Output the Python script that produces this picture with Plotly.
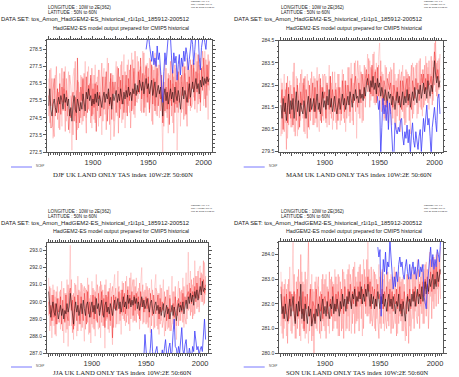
import plotly.graph_objects as go

W, H = 459, 377

years = list(range(1860, 2006))
ncep_years = list(range(1948, 2006))

# ---------------- DJF ----------------
DJF_mean = [275.2, 276.2, 275.0, 274.6, 275.3, 275.6, 275.1, 274.8, 275.4, 275.7,
            275.3, 275.8, 275.5, 275.0, 275.9, 275.4, 275.7, 275.2, 275.6, 274.6,
            275.1, 274.3, 275.3, 275.8, 275.0, 274.8, 275.6, 275.2, 274.9, 275.4,
            275.0, 275.9, 275.3, 274.9, 276.0, 275.6, 276.2, 275.5, 275.8, 275.2,
            275.6, 275.3, 275.9, 275.4, 276.0, 275.2, 275.8, 275.5, 275.1, 275.7,
            276.0, 275.4, 275.9, 275.6, 276.2, 275.3, 275.7, 275.0, 275.9, 275.5,
            275.8, 276.1, 275.4, 275.9, 275.5, 276.2, 275.7, 275.3, 276.0, 275.6,
            276.1, 275.7, 276.3, 275.8, 276.0, 275.5, 276.2, 275.9, 276.5, 275.8,
            276.4, 276.0, 276.7, 276.3, 276.1, 276.6, 275.9, 276.4, 276.8, 276.2,
            276.5, 275.9, 276.3, 276.7, 275.8, 276.2, 276.6, 275.7, 276.1, 276.4,
            275.9, 276.3, 275.6, 274.6, 275.8, 276.2, 275.5, 276.0, 275.3, 275.9,
            276.2, 275.6, 276.0, 275.4, 276.3, 275.8, 275.5, 276.1, 275.7, 275.0,
            275.9, 276.3, 275.6, 276.1, 275.8, 275.4, 276.0, 276.5, 275.7, 276.3,
            276.6, 276.0, 276.4, 276.8, 276.2, 276.5, 275.9, 276.7, 276.3, 276.9,
            276.4, 276.8, 276.5, 276.9, 276.6, 276.8]
DJF_r1 = [276.8, 274.2, 277.4, 275.9, 273.3, 276.5, 277.0, 274.8, 276.2, 273.9,
          277.1, 275.4, 274.0, 276.8, 275.1, 277.5, 274.3, 276.0, 277.2, 273.6,
          275.8, 272.6, 276.9, 277.4, 274.6, 276.1, 273.8, 276.6, 275.2, 277.0,
          274.1, 276.7, 275.0, 277.8, 274.5, 276.3, 277.5, 274.9, 276.8, 273.9,
          276.5, 274.4, 277.6, 275.2, 276.9, 274.0, 277.3, 275.6, 273.5, 276.8,
          277.4, 274.7, 276.2, 278.0, 275.0, 276.6, 273.2, 277.1, 275.8, 274.3,
          276.9, 277.8, 274.6, 276.3, 275.1, 277.6, 274.2, 276.7, 278.2, 273.9,
          276.4, 275.3, 277.9, 274.8, 276.6, 278.3, 275.0, 277.2, 274.5, 276.9,
          278.1, 275.6, 277.3, 274.9, 276.7, 278.4, 275.8, 277.0, 274.6, 277.7,
          275.4, 278.0, 276.2, 274.3, 277.5, 275.9, 278.3, 274.7, 276.8, 277.6,
          274.5, 277.2, 275.1, 272.5, 276.4, 277.9, 274.8, 276.1, 273.6, 277.0,
          275.5, 278.1, 274.2, 276.9, 275.3, 277.4, 272.6, 276.2, 277.8, 274.0,
          276.6, 275.0, 277.7, 274.6, 276.8, 278.0, 275.2, 277.3, 274.9, 276.5,
          277.9, 275.7, 276.9, 278.3, 274.8, 277.1, 275.6, 278.0, 276.4, 277.5,
          275.2, 278.4, 276.3, 277.6, 274.4, 277.9]
DJF_r2 = [274.6, 277.3, 275.2, 276.8, 274.0, 273.4, 276.1, 277.5, 274.4, 276.0,
          273.8, 276.5, 277.4, 274.9, 276.2, 273.7, 276.8, 274.6, 275.3, 277.0,
          276.4, 275.1, 273.5, 275.9, 277.8, 274.2, 276.7, 273.9, 276.0, 274.5,
          276.9, 274.3, 277.1, 275.4, 273.6, 277.2, 275.0, 276.5, 274.2, 277.4,
          274.7, 277.0, 274.2, 276.6, 274.9, 277.3, 274.5, 276.1, 277.7, 274.3,
          275.6, 276.9, 273.8, 275.4, 277.7, 274.1, 276.8, 275.2, 277.0, 273.4,
          274.5, 275.8, 277.5, 273.6, 276.9, 275.0, 277.8, 274.4, 275.3, 277.2,
          274.8, 277.6, 275.2, 277.3, 273.9, 276.0, 277.9, 274.7, 278.4, 275.5,
          275.4, 277.8, 275.9, 277.5, 274.8, 276.2, 278.3, 275.1, 277.6, 275.7,
          277.4, 275.0, 277.9, 276.5, 274.1, 277.3, 275.2, 277.8, 274.6, 276.9,
          277.6, 274.9, 276.7, 275.3, 274.0, 275.5, 277.4, 274.5, 277.1, 275.0,
          277.8, 274.6, 276.5, 273.6, 277.6, 275.3, 277.0, 274.8, 276.4, 276.9,
          274.8, 277.6, 274.4, 277.1, 275.2, 274.0, 277.5, 275.6, 277.9, 275.1,
          275.4, 277.4, 275.0, 276.6, 277.8, 275.3, 277.6, 274.9, 277.2, 278.4,
          277.3, 275.6, 277.9, 275.8, 278.2, 276.1]
DJF_r3 = [275.8, 275.4, 273.9, 274.0, 276.1, 276.8, 274.6, 275.3, 276.2, 274.8,
          276.5, 274.7, 276.3, 275.4, 277.2, 274.9, 276.1, 275.5, 273.8, 275.0,
          274.5, 275.6, 276.0, 274.3, 275.7, 273.2, 278.0, 275.0, 274.2, 276.3,
          275.5, 276.8, 274.6, 275.3, 276.9, 274.8, 276.4, 275.8, 277.0, 274.6,
          276.2, 275.1, 276.5, 273.7, 276.4, 275.6, 276.0, 274.6, 275.8, 276.9,
          275.0, 276.4, 277.2, 274.3, 276.0, 275.2, 277.1, 274.4, 276.6, 275.9,
          276.6, 274.8, 275.9, 277.4, 274.5, 276.7, 275.3, 277.0, 274.8, 276.4,
          277.0, 274.6, 276.8, 275.5, 277.6, 274.9, 276.5, 277.4, 275.2, 276.1,
          275.9, 277.2, 276.0, 278.0, 275.6, 277.1, 274.8, 276.9, 277.5, 275.4,
          276.9, 274.8, 276.0, 277.6, 275.3, 276.8, 274.9, 276.3, 277.4, 275.2,
          276.1, 275.6, 277.0, 274.2, 276.6, 274.9, 276.3, 275.0, 276.8, 274.1,
          276.7, 275.2, 277.3, 275.9, 274.8, 276.6, 275.1, 277.2, 275.4, 275.9,
          277.0, 275.8, 276.4, 277.5, 274.7, 276.6, 275.4, 276.9, 275.2, 277.6,
          276.2, 277.7, 275.5, 277.2, 276.0, 278.2, 276.8, 275.4, 277.4, 276.1,
          278.0, 276.9, 275.1, 277.6, 276.4, 277.8]
NCEP_DJF = [278.5, 279.3, 279.5, 278.8, 278.2, 277.8, 278.4, 277.6, 278.0, 277.5,
            278.7, 277.9, 278.3, 277.4, 276.0, 275.4, 277.2, 278.3, 277.6, 278.9,
            279.3, 279.6, 279.2, 278.0, 277.1, 278.3, 277.7, 278.1, 276.7, 277.6,
            278.2, 277.0, 278.0, 277.5, 278.4, 277.8, 278.6, 278.2, 277.3, 277.9,
            278.7, 279.2, 278.8, 277.6, 278.5, 279.4, 279.1, 279.5, 278.0, 277.3,
            278.6, 279.3, 279.5, 278.9, 278.5, 279.4, 279.1, 279.6]

# ---------------- MAM ----------------
MAM_mean = [281.6, 281.0, 281.9, 281.3, 281.7, 280.9, 281.5, 282.1, 281.2, 281.8,
            281.4, 281.9, 281.0, 281.6, 282.2, 281.3, 281.8, 281.1, 281.7, 281.4,
            281.2, 281.8, 281.5, 281.0, 281.6, 282.0, 281.3, 281.9, 281.4, 281.7,
            281.9, 281.3, 281.8, 282.1, 281.4, 281.7, 281.2, 281.9, 282.2, 281.5,
            281.8, 281.4, 282.0, 281.6, 282.3, 281.5, 281.9, 281.3, 281.8, 282.0,
            281.5, 281.2, 281.6, 281.9, 281.4, 281.8, 282.1, 281.6, 281.9, 281.4,
            281.8, 282.0, 281.6, 282.2, 281.9, 281.5, 282.1, 281.8, 282.3, 281.9,
            282.0, 281.7, 282.3, 281.9, 282.1, 281.8, 282.4, 282.0, 282.6, 282.8,
            282.5, 282.2, 282.7, 282.4, 282.9, 282.3, 282.6, 282.1, 282.8, 282.4,
            282.6, 282.0, 282.4, 282.1, 281.8, 282.3, 282.0, 281.7, 282.2, 281.9,
            282.1, 281.6, 282.0, 281.8, 281.4, 281.9, 282.2, 281.7, 282.0, 281.5,
            281.9, 282.2, 281.6, 282.0, 281.7, 282.3, 281.8, 282.1, 281.5, 281.9,
            282.2, 281.8, 282.4, 282.0, 281.7, 282.3, 282.1, 282.5, 281.9, 282.2,
            282.6, 282.1, 282.4, 281.9, 282.7, 282.3, 282.0, 282.5, 282.2, 282.8,
            283.6, 283.0, 282.6, 282.9, 282.4, 282.7]
MAM_r1 = [282.8, 280.3, 281.6, 283.0, 280.8, 282.4, 280.1, 281.9, 282.7, 280.6,
          282.3, 283.1, 280.4, 281.8, 282.9, 280.2, 281.5, 282.6, 280.9, 283.2,
          281.0, 282.5, 280.3, 281.7, 283.0, 281.2, 280.5, 282.8, 281.4, 280.7,
          282.9, 280.8, 282.2, 283.3, 281.0, 280.4, 282.5, 281.6, 283.0, 280.9,
          281.7, 282.9, 280.6, 282.1, 283.4, 281.2, 282.6, 280.5, 282.3, 283.1,
          280.8, 282.4, 281.5, 283.0, 280.7, 282.2, 283.2, 281.0, 282.7, 280.4,
          282.5, 283.3, 281.1, 282.0, 283.5, 280.9, 282.6, 281.8, 283.6, 280.1,
          282.8, 281.2, 283.4, 282.0, 280.8, 283.0, 281.9, 283.3, 282.4, 283.9,
          282.2, 283.6, 281.8, 283.2, 282.5, 284.0, 281.6, 283.5, 282.1, 283.8,
          284.4, 281.9, 283.1, 282.3, 280.9, 283.4, 282.0, 281.2, 283.0, 281.7,
          283.3, 280.7, 282.5, 281.4, 283.0, 280.5, 282.8, 281.6, 283.2, 280.4,
          282.6, 283.4, 281.0, 282.9, 280.8, 283.1, 281.7, 282.4, 280.3, 282.9,
          283.5, 281.2, 282.7, 283.4, 281.0, 282.2, 283.6, 281.5, 282.8, 281.1,
          283.2, 281.6, 283.8, 282.0, 283.3, 281.4, 283.0, 282.4, 283.6, 281.8,
          284.4, 282.2, 283.5, 281.9, 283.7, 282.8]
MAM_r2 = [280.2, 282.6, 281.0, 280.4, 282.3, 279.6, 282.9, 280.7, 281.8, 282.5,
          280.6, 281.4, 283.5, 280.2, 281.7, 282.8, 280.5, 282.1, 283.0, 281.3,
          282.6, 280.4, 282.9, 281.2, 280.1, 282.7, 281.6, 280.9, 283.1, 282.0,
          280.7, 282.8, 281.3, 280.6, 282.6, 283.0, 280.9, 282.4, 281.1, 282.9,
          283.0, 280.8, 282.5, 281.3, 280.7, 282.9, 281.0, 283.1, 280.9, 282.2,
          282.6, 280.5, 283.0, 281.2, 282.4, 280.9, 281.6, 283.0, 280.8, 282.5,
          281.0, 281.6, 283.3, 280.8, 282.5, 283.0, 280.7, 283.5, 281.3, 282.4,
          283.6, 282.8, 281.0, 283.1, 282.6, 280.9, 283.4, 281.5, 283.0, 282.2,
          283.7, 281.5, 283.3, 282.0, 283.9, 281.7, 283.2, 282.6, 281.8, 283.4,
          281.4, 283.6, 281.3, 283.0, 282.2, 281.0, 283.3, 282.4, 280.8, 283.1,
          281.2, 283.2, 281.0, 283.5, 280.8, 282.7, 281.1, 283.0, 280.9, 282.8,
          283.1, 281.3, 282.9, 280.7, 283.2, 281.5, 283.0, 280.9, 282.6, 283.4,
          281.0, 283.3, 281.6, 282.2, 283.5, 281.2, 282.0, 283.7, 281.4, 283.2,
          281.5, 283.4, 281.8, 283.5, 281.7, 283.6, 281.9, 283.8, 281.6, 283.3,
          282.5, 284.5, 282.0, 283.6, 282.3, 283.9]
MAM_r3 = [281.7, 282.3, 280.5, 282.0, 281.2, 282.6, 280.8, 282.4, 281.5, 281.0,
          282.1, 280.7, 282.4, 281.5, 280.9, 282.5, 281.9, 280.6, 282.2, 281.6,
          281.9, 282.8, 281.0, 282.3, 281.8, 280.6, 282.5, 281.3, 282.0, 282.6,
          281.3, 282.4, 281.0, 282.7, 282.0, 281.3, 282.8, 280.8, 282.4, 281.9,
          282.2, 281.0, 282.6, 281.9, 281.4, 282.9, 281.5, 282.3, 281.7, 281.3,
          282.3, 281.8, 280.9, 282.4, 281.9, 281.2, 282.7, 281.8, 281.3, 282.7,
          281.6, 282.5, 282.1, 281.3, 282.8, 282.0, 281.7, 282.5, 282.9, 281.9,
          281.5, 282.6, 282.2, 281.7, 283.0, 282.4, 281.9, 282.8, 283.2, 282.5,
          283.0, 282.5, 282.1, 283.4, 282.0, 282.8, 283.1, 281.7, 283.3, 282.0,
          282.3, 282.9, 282.6, 281.6, 282.7, 282.4, 281.5, 282.8, 282.6, 282.3,
          282.6, 282.0, 281.5, 282.5, 282.2, 281.8, 282.4, 282.1, 281.6, 282.7,
          281.4, 282.7, 282.3, 281.9, 282.5, 282.8, 281.6, 282.9, 282.0, 281.4,
          282.7, 282.4, 281.9, 282.8, 282.3, 282.6, 281.8, 282.3, 283.0, 282.6,
          283.0, 282.2, 282.8, 282.3, 283.0, 282.5, 282.6, 282.9, 282.1, 283.1,
          284.0, 283.5, 282.8, 283.2, 282.9, 282.4]
NCEP_MAM = [282.0, 281.4, 281.8, 279.3, 280.6, 281.9, 281.2, 281.6, 280.9, 281.8,
            280.5, 281.7, 281.3, 280.2, 279.4, 279.3, 280.8, 280.5, 280.3, 280.6,
            280.4, 280.9, 281.0, 280.2, 279.8, 280.4, 280.1, 280.7, 279.9, 280.5,
            279.4, 280.3, 280.8, 280.0, 279.7, 280.4, 280.1, 279.6, 280.2, 280.5,
            279.5, 280.3, 281.0, 280.4, 281.3, 281.6, 280.7, 281.0, 280.2, 279.3,
            280.6, 281.2, 281.5, 280.9, 280.4, 281.9, 282.1, 281.2]

# ---------------- JJA ----------------
JJA_mean = [290.6, 289.8, 289.1, 289.6, 290.0, 289.4, 289.2, 289.9, 289.5, 289.0,
            289.4, 289.8, 289.2, 289.6, 289.0, 289.5, 289.3, 289.9, 289.4, 289.7,
            290.5, 289.9, 289.3, 288.7, 289.6, 290.0, 289.4, 289.8, 289.2, 289.5,
            289.9, 289.3, 290.1, 289.6, 289.2, 289.8, 290.0, 289.5, 289.1, 289.7,
            290.0, 289.4, 289.8, 289.3, 290.2, 289.6, 289.9, 289.2, 289.7, 290.1,
            289.5, 289.1, 289.8, 290.0, 289.4, 289.7, 289.3, 289.9, 289.6, 289.2,
            289.8, 290.1, 289.5, 289.9, 290.2, 289.6, 290.0, 289.4, 289.8, 290.3,
            289.7, 290.0, 289.6, 290.4, 289.9, 290.2, 289.7, 290.1, 289.8, 290.3,
            289.9, 290.2, 289.6, 290.0, 289.5, 289.9, 290.3, 289.7, 290.1, 289.6,
            289.8, 290.2, 289.7, 289.4, 289.9, 290.1, 289.6, 289.3, 289.8, 290.0,
            289.5, 289.8, 289.3, 289.7, 289.2, 289.6, 289.9, 289.1, 289.5, 289.8,
            289.3, 289.6, 289.0, 289.5, 289.8, 289.2, 289.7, 289.4, 288.9, 289.6,
            289.9, 289.4, 289.8, 289.5, 290.0, 289.3, 289.7, 290.1, 289.6, 290.3,
            289.9, 290.5, 290.0, 290.4, 289.8, 290.6, 290.2, 290.7, 290.1, 290.5,
            290.9, 290.4, 291.2, 290.6, 290.8, 290.7]
JJA_r1 = [291.4, 288.3, 290.8, 287.9, 291.0, 288.6, 290.3, 288.0, 290.9, 288.8,
          290.6, 288.4, 291.2, 289.0, 287.6, 290.5, 288.2, 291.3, 287.4, 290.1,
          293.3, 288.6, 290.4, 287.8, 291.1, 289.2, 288.0, 291.5, 288.7, 290.6,
          288.3, 291.0, 289.5, 287.7, 290.8, 288.9, 291.4, 288.1, 290.2, 287.6,
          291.2, 288.5, 290.7, 288.0, 291.6, 289.1, 288.4, 290.9, 287.9, 291.0,
          288.6, 290.4, 287.3, 291.3, 289.0, 290.6, 288.2, 291.1, 288.8, 287.5,
          290.9, 291.6, 288.5, 290.2, 291.8, 288.7, 290.5, 288.1, 291.2, 289.0,
          290.4, 288.6, 291.5, 289.2, 290.9, 288.3, 291.7, 289.6, 288.8, 291.3,
          288.9, 291.4, 289.3, 290.8, 288.4, 291.0, 292.0, 288.7, 290.6, 289.4,
          291.1, 288.8, 290.7, 289.0, 288.2, 291.3, 289.5, 288.4, 290.9, 291.6,
          288.6, 290.5, 288.1, 291.0, 288.9, 290.2, 291.3, 288.0, 289.8, 290.7,
          288.4, 290.9, 288.3, 290.4, 291.5, 288.7, 290.6, 289.1, 287.8, 290.3,
          291.2, 288.9, 290.6, 289.3, 291.4, 288.5, 290.1, 291.7, 289.0, 292.9,
          289.6, 291.8, 289.4, 291.0, 289.2, 292.4, 290.3, 291.5, 289.7, 291.9,
          292.1, 290.0, 291.6, 289.8, 292.3, 290.4]
JJA_r2 = [289.2, 290.9, 288.6, 290.4, 288.9, 290.7, 288.1, 290.6, 288.7, 290.2,
          288.8, 290.7, 289.0, 288.3, 290.8, 288.9, 290.5, 288.4, 291.0, 288.6,
          289.7, 291.3, 288.2, 290.5, 288.6, 291.0, 290.3, 288.3, 290.7, 288.9,
          291.1, 288.5, 290.6, 290.9, 288.4, 290.7, 288.8, 291.0, 288.2, 290.4,
          288.7, 290.8, 288.4, 290.6, 288.9, 291.0, 290.4, 288.5, 291.2, 288.8,
          290.7, 288.6, 291.0, 288.9, 290.3, 288.4, 290.8, 288.6, 290.5, 290.9,
          288.5, 290.3, 290.8, 288.7, 290.6, 290.9, 288.9, 290.7, 289.2, 291.1,
          288.9, 291.2, 288.8, 290.9, 288.7, 291.4, 289.0, 290.8, 291.3, 288.9,
          290.9, 288.8, 290.6, 289.2, 291.1, 288.9, 290.4, 291.0, 288.8, 290.7,
          288.7, 290.9, 288.5, 290.8, 290.3, 288.6, 290.7, 289.1, 288.5, 290.8,
          290.6, 288.4, 290.5, 288.7, 290.8, 288.5, 288.9, 290.6, 288.3, 289.0,
          290.7, 288.5, 290.4, 288.3, 288.8, 290.6, 288.4, 290.9, 288.6, 290.1,
          288.6, 290.8, 288.9, 290.7, 288.8, 290.9, 289.1, 288.7, 291.0, 289.5,
          291.1, 289.2, 291.3, 289.0, 291.4, 289.3, 291.5, 289.6, 291.8, 289.4,
          290.3, 291.7, 290.0, 292.4, 289.9, 291.5]
JJA_r3 = [290.0, 289.3, 289.8, 288.9, 290.4, 289.1, 289.9, 288.7, 290.2, 289.4,
          289.6, 290.3, 288.7, 290.1, 289.3, 288.8, 290.4, 289.2, 288.9, 290.5,
          290.8, 289.5, 290.1, 288.4, 290.3, 289.6, 288.9, 290.4, 289.2, 288.7,
          290.3, 289.7, 288.9, 290.5, 289.4, 288.7, 290.6, 289.3, 290.0, 289.1,
          289.5, 290.4, 289.0, 290.3, 289.6, 288.8, 290.5, 289.4, 289.8, 290.6,
          289.2, 290.2, 288.5, 290.4, 289.1, 290.6, 289.5, 288.9, 290.3, 287.9,
          290.4, 289.6, 290.3, 289.5, 290.0, 290.6, 289.3, 290.2, 290.7, 289.4,
          290.5, 289.3, 290.1, 290.7, 289.6, 290.4, 289.8, 290.6, 289.2, 290.4,
          289.5, 290.5, 289.9, 290.3, 289.0, 290.6, 289.7, 290.2, 289.4, 290.0,
          290.3, 289.6, 290.2, 289.1, 290.5, 289.8, 289.2, 290.4, 289.6, 289.3,
          289.9, 290.4, 289.0, 290.2, 289.4, 290.0, 289.5, 289.8, 290.3, 288.9,
          289.7, 289.0, 290.2, 289.4, 289.6, 289.9, 289.1, 290.3, 289.5, 289.2,
          290.2, 289.7, 290.0, 289.4, 290.5, 289.6, 290.3, 289.9, 290.4, 290.6,
          290.2, 290.8, 289.9, 290.6, 290.3, 290.9, 290.0, 291.1, 290.5, 290.2,
          291.4, 290.6, 290.9, 291.3, 290.5, 291.0]
NCEP_JJA = [286.8, 288.1, 287.2, 286.6, 287.0, 286.7, 287.3, 288.4, 287.1, 286.5,
            286.9, 287.2, 287.4, 286.8, 286.6, 287.0, 286.7, 287.2, 286.8, 287.3,
            287.8, 287.0, 286.7, 287.3, 287.6, 286.9, 287.1, 288.2, 289.0, 287.4,
            287.3, 286.8, 287.4, 287.0, 287.6, 288.5, 287.2, 286.9, 287.5, 287.8,
            287.0, 286.7, 287.3, 287.0, 286.6, 287.4, 287.1, 288.3, 287.5, 287.2,
            287.4, 286.9, 287.2, 287.4, 287.1, 288.2, 289.0, 287.8]

# ---------------- SON ----------------
SON_mean = [282.4, 281.6, 281.9, 281.4, 282.0, 281.7, 281.3, 281.8, 282.2, 281.5,
            281.9, 282.3, 281.6, 281.2, 282.0, 281.5, 282.1, 281.7, 282.8, 281.4,
            281.8, 281.3, 282.0, 281.6, 281.2, 281.9, 281.5, 281.8, 281.1, 281.4,
            281.6, 281.2, 281.8, 281.5, 282.0, 281.7, 281.3, 281.9, 282.2, 281.6,
            281.9, 281.5, 282.1, 281.7, 281.4, 282.0, 281.8, 282.3, 281.6, 282.0,
            281.7, 282.2, 281.9, 281.5, 282.1, 281.8, 282.4, 281.9, 282.2, 281.7,
            282.3, 282.0, 282.5, 282.1, 281.8, 282.4, 282.2, 282.6, 281.9, 282.3,
            282.1, 282.5, 282.2, 282.7, 282.0, 282.4, 282.1, 282.6, 282.3, 282.8,
            282.2, 281.9, 282.4, 282.0, 282.3, 281.8, 282.2, 281.9, 282.5, 282.1,
            281.8, 282.3, 282.0, 282.4, 281.9, 282.2, 281.7, 282.1, 282.4, 281.9,
            282.2, 281.8, 282.3, 282.0, 281.6, 282.1, 281.9, 282.4, 281.7, 282.0,
            281.5, 282.1, 281.8, 281.3, 282.0, 282.3, 281.7, 282.2, 281.9, 282.4,
            282.1, 282.5, 281.9, 282.3, 282.6, 282.0, 282.4, 282.2, 282.7, 282.1,
            282.6, 282.9, 282.4, 282.8, 282.5, 283.0, 282.7, 282.9, 283.2, 282.6,
            283.0, 282.7, 283.3, 282.9, 283.2, 283.4]
SON_r1 = [283.3, 280.8, 282.6, 281.0, 283.0, 280.7, 282.8, 281.2, 283.5, 280.9,
          282.7, 284.5, 281.1, 282.4, 280.6, 283.1, 281.4, 282.9, 280.5, 283.3,
          281.0, 282.8, 280.6, 283.0, 281.5, 280.4, 282.6, 281.1, 283.2, 280.7,
          282.5, 281.2, 283.1, 280.9, 282.7, 281.4, 280.6, 283.0, 281.3, 282.8,
          280.9, 283.2, 281.4, 282.6, 280.8, 283.0, 281.5, 282.9, 281.0, 283.4,
          281.3, 282.8, 280.7, 283.1, 281.6, 282.5, 281.0, 283.3, 281.8, 280.9,
          283.2, 281.5, 283.6, 281.9, 280.8, 283.4, 281.6, 283.7, 281.2, 282.9,
          281.4, 283.5, 281.9, 283.2, 280.7, 283.8, 282.0, 283.1, 281.5, 284.5,
          281.6, 283.0, 281.3, 282.8, 283.4, 281.0, 283.2, 281.4, 282.7, 283.6,
          281.2, 283.3, 281.8, 283.0, 280.9, 282.7, 283.4, 281.3, 282.9, 281.6,
          283.2, 281.0, 282.8, 283.5, 281.2, 282.6, 280.8, 283.3, 281.5, 282.9,
          280.9, 283.1, 281.6, 280.5, 283.2, 281.8, 283.0, 281.1, 282.7, 283.5,
          281.4, 283.3, 281.7, 283.0, 283.8, 281.5, 282.9, 281.9, 283.6, 281.2,
          283.4, 282.0, 283.7, 281.8, 283.2, 284.1, 282.3, 283.5, 282.1, 283.9,
          282.4, 284.0, 282.6, 283.8, 282.9, 284.3]
SON_r2 = [281.1, 282.9, 280.6, 282.8, 281.3, 282.6, 280.4, 283.0, 281.4, 282.5,
          280.8, 281.6, 283.2, 280.6, 282.9, 281.0, 283.4, 280.7, 284.0, 281.2,
          282.9, 281.0, 283.3, 280.8, 282.6, 284.5, 280.9, 282.8, 280.5, 282.6,
          280.0, 282.9, 281.0, 282.6, 283.1, 280.8, 282.5, 280.9, 283.2, 281.1,
          283.0, 280.6, 282.7, 281.1, 283.3, 281.4, 283.1, 280.9, 282.8, 281.3,
          283.1, 281.0, 283.2, 280.7, 282.9, 280.9, 283.4, 280.6, 283.0, 282.4,
          281.0, 283.4, 280.9, 283.2, 282.8, 281.2, 283.5, 280.8, 283.1, 281.3,
          283.3, 280.9, 283.6, 281.4, 283.2, 281.0, 283.4, 281.6, 283.8, 281.5,
          283.4, 281.2, 283.5, 281.1, 281.6, 283.3, 280.9, 283.0, 281.4, 280.6,
          283.1, 281.0, 283.4, 281.2, 283.2, 281.4, 281.0, 283.3, 281.1, 283.0,
          280.8, 283.1, 281.0, 281.4, 283.3, 280.7, 283.0, 281.2, 283.1, 281.3,
          283.0, 280.9, 282.8, 281.1, 280.7, 283.2, 280.4, 283.1, 280.9, 281.6,
          283.2, 281.0, 283.3, 281.5, 281.2, 283.4, 281.0, 283.1, 281.6, 283.3,
          281.2, 283.6, 281.5, 283.4, 281.0, 282.1, 283.8, 281.4, 283.9, 281.8,
          283.6, 281.9, 284.1, 282.0, 283.7, 282.2]
SON_r3 = [282.7, 282.0, 281.4, 282.3, 281.6, 282.4, 281.8, 281.3, 282.5, 281.9,
          282.4, 281.7, 282.5, 281.3, 282.1, 282.6, 281.5, 282.3, 281.9, 281.6,
          282.5, 280.9, 282.3, 281.8, 282.4, 281.5, 282.0, 282.6, 281.2, 282.1,
          281.9, 281.3, 282.6, 282.0, 281.5, 282.3, 281.7, 282.4, 281.4, 282.2,
          282.3, 282.0, 281.6, 282.5, 281.9, 282.2, 281.5, 282.7, 282.0, 281.7,
          282.4, 281.8, 282.5, 282.0, 281.7, 282.6, 282.1, 281.6, 282.7, 282.3,
          281.8, 282.6, 282.1, 282.8, 281.9, 282.5, 282.0, 282.7, 282.3, 281.9,
          282.7, 282.2, 282.9, 282.0, 282.6, 282.3, 282.8, 281.9, 282.5, 283.1,
          282.5, 282.9, 281.8, 282.7, 282.2, 282.6, 281.9, 282.4, 282.8, 282.2,
          282.4, 282.0, 282.6, 281.8, 282.5, 282.1, 282.7, 281.7, 282.3, 282.6,
          281.9, 282.5, 281.7, 282.4, 282.0, 282.6, 281.8, 282.3, 282.7, 281.6,
          282.2, 281.8, 282.5, 282.0, 281.6, 282.4, 282.1, 282.6, 281.8, 282.3,
          282.6, 282.1, 282.7, 281.9, 282.5, 282.3, 282.8, 282.0, 282.6, 282.9,
          282.3, 283.0, 282.6, 283.1, 282.4, 282.8, 283.3, 282.5, 283.0, 283.4,
          282.8, 283.5, 283.0, 282.7, 283.4, 283.2]
NCEP_SON = [284.3, 283.9, 284.2, 281.5, 282.6, 283.8, 283.3, 284.1, 283.2, 283.7,
            283.5, 284.6, 283.9, 283.4, 282.6, 283.1, 282.7, 283.3, 282.9, 283.6,
            283.9, 283.5, 283.7, 283.2, 283.0, 283.5, 283.8, 283.3, 283.0, 283.6,
            283.0, 283.4, 283.7, 283.2, 283.5, 283.0, 283.4, 283.8, 283.1, 283.5,
            283.3, 283.6, 282.3, 282.0, 281.8, 282.7, 283.3, 283.8, 284.3, 283.5,
            284.0, 283.4, 283.8, 283.5, 284.2, 284.0, 283.7, 284.6]

# tick labels
DJF_yticks = [272.5, 273.5, 274.5, 275.5, 276.5, 277.5, 278.5]
MAM_yticks = [279.5, 280.5, 281.5, 282.5, 283.5, 284.5]
JJA_yticks = [287.0, 288.0, 289.0, 290.0, 291.0, 292.0, 293.0]
SON_yticks = [280.0, 281.0, 282.0, 283.0, 284.0]
x_labels = {1900: "1900", 1950: "1950", 2000: "2000"}

season_titles = ["DJF UK LAND ONLY TAS index 10W:2E 50:60N",
                 "MAM UK LAND ONLY TAS index 10W:2E 50:60N",
                 "JJA UK LAND ONLY TAS index 10W:2E 50:60N",
                 "SON UK LAND ONLY TAS index 10W:2E 50:60N"]

# layout geometry (pixels): left, right, top, bottom of plot box
panels = [
    dict(mean=DJF_mean, mem=[DJF_r1, DJF_r2, DJF_r3], ncep=NCEP_DJF, yt=DJF_yticks,
         yr=[272.5, 279.05], box=(47, 212, 40, 152)),
    dict(mean=MAM_mean, mem=[MAM_r1, MAM_r2, MAM_r3], ncep=NCEP_MAM, yt=MAM_yticks,
         yr=[279.5, 284.5], box=(279.3, 442.7, 40.7, 151.7)),
    dict(mean=JJA_mean, mem=[JJA_r1, JJA_r2, JJA_r3], ncep=NCEP_JJA, yt=JJA_yticks,
         yr=[287.0, 293.45], box=(47, 208.3, 242.7, 353.3)),
    dict(mean=SON_mean, mem=[SON_r1, SON_r2, SON_r3], ncep=NCEP_SON, yt=SON_yticks,
         yr=[280.0, 284.52], box=(279.3, 443.3, 241.7, 353.3)),
]

member_colors = ["rgba(255,170,170,0.85)", "rgba(255,120,120,0.8)", "rgba(235,30,30,0.75)"]

fig = go.Figure()
layout = dict(width=W, height=H, margin=dict(l=0, r=0, t=0, b=0, autoexpand=False),
              paper_bgcolor="white", plot_bgcolor="white", showlegend=False)
annotations = []
shapes = []

def px(x):
    return x / W

def py(y):
    return 1 - y / H

xtickvals = list(range(1860, 2010, 10))
xticktext = [x_labels.get(v, "") for v in xtickvals]

for i, p in enumerate(panels):
    n = i + 1
    xa = "x" if n == 1 else f"x{n}"
    ya = "y" if n == 1 else f"y{n}"
    l, r, t, b = p["box"]
    for k, m in enumerate(p["mem"]):
        fig.add_trace(go.Scatter(x=years, y=m, mode="lines", xaxis=xa, yaxis=ya,
                                 line=dict(color=member_colors[k], width=0.6),
                                 hoverinfo="skip"))
    fig.add_trace(go.Scatter(x=years, y=p["mean"], mode="lines", xaxis=xa, yaxis=ya,
                             line=dict(color="rgba(40,10,10,0.85)", width=0.7),
                             hoverinfo="skip"))
    fig.add_trace(go.Scatter(x=ncep_years, y=p["ncep"], mode="lines", xaxis=xa, yaxis=ya,
                             line=dict(color="rgb(60,60,250)", width=0.8),
                             hoverinfo="skip"))
    axcommon = dict(showline=True, linecolor="#555", linewidth=1, mirror="allticks",
                    ticks="outside", tickcolor="#555", showgrid=False, zeroline=False,
                    fixedrange=True, automargin=False)
    layout["xaxis" if n == 1 else f"xaxis{n}"] = dict(
        axcommon, domain=[px(l), px(r)], anchor=ya, range=[1858.5, 2007.5],
        tickmode="array", tickvals=xtickvals, ticktext=xticktext, ticklen=3,
        tickfont=dict(family="Liberation Sans, Arial", size=7.5, color="#333"),
        minor=dict(dtick=2, ticklen=1.5, tickcolor="#555", ticks="outside", showgrid=False))
    layout["yaxis" if n == 1 else f"yaxis{n}"] = dict(
        axcommon, domain=[py(b), py(t)], anchor=xa, range=p["yr"],
        tickmode="array", tickvals=p["yt"], ticktext=[f"{v:.1f}" for v in p["yt"]],
        ticklen=3, tickfont=dict(family="Liberation Sans, Arial", size=5, color="#333"),
        minor=dict(dtick=0.25, tick0=p["yt"][0], ticklen=1.5, tickcolor="#555",
                   ticks="outside", showgrid=False))

    # header texts
    top_off = 0 if i < 2 else 204
    left_off = 0 if i % 2 == 0 else 232.7
    hdr = "Liberation Sans, Arial"
    annotations += [
        dict(x=px(left_off + 47), y=py(top_off + 7), text="LONGITUDE : 10W to 2E(362)",
             font=dict(family=hdr, size=4.6, color="#222")),
        dict(x=px(left_off + 47), y=py(top_off + 12.3), text="LATITUDE : 50N to 60N",
             font=dict(family=hdr, size=4.6, color="#222")),
        dict(x=px(left_off), y=py(top_off + 19),
             text="DATA SET: tos_Amon_HadGEM2-ES_historical_r1i1p1_185912-200512",
             font=dict(family=hdr, size=5.9, color="#222")),
        dict(x=px(left_off + 52), y=py(top_off + 27.5),
             text="HadGEM2-ES model output prepared for CMIP5 historical",
             font=dict(family=hdr, size=5.3, color="#222")),
        dict(x=px(left_off + 190), y=py(top_off + 4.5),
             text="FERRET Ver. 6.1<br>NOAA/PMEL TMAP<br>Mar 27 2012 16:52:17",
             font=dict(family=hdr, size=2.4, color="#333")),
    ]
    # footer
    bot = 174 if i < 2 else 372.3
    leg_y = 167 if i < 2 else 367
    annotations += [
        dict(x=px(left_off + 52), y=py(bot), text=season_titles[i],
             font=dict(family="Liberation Serif, DejaVu Serif", size=6.8, color="#222")),
        dict(x=px(left_off + 35), y=py(leg_y - 1), text="NCEP",
             font=dict(family=hdr, size=3, color="#555")),
    ]
    shapes.append(dict(type="line", xref="paper", yref="paper",
                       x0=px(left_off + 11), x1=px(left_off + 32),
                       y0=py(leg_y), y1=py(leg_y),
                       line=dict(color="rgb(120,120,255)", width=1)))

for a in annotations:
    a.update(xref="paper", yref="paper", xanchor="left", yanchor="middle",
             showarrow=False, align="left", borderpad=0)
layout["annotations"] = annotations
layout["shapes"] = shapes
fig.update_layout(**layout)
fig.write_html("out.html",
               config={"displayModeBar": False, "staticPlot": True},
               post_script="document.body.style.margin='0';document.body.style.padding='0';"
                           "document.body.style.overflow='hidden';")
